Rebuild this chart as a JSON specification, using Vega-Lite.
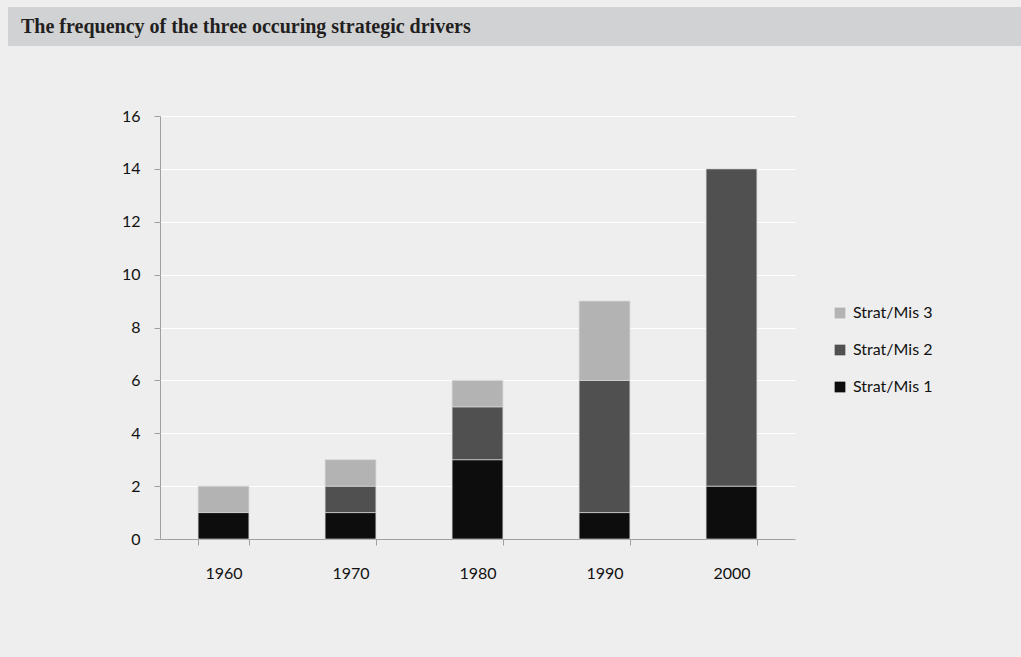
{
  "$schema": "https://vega.github.io/schema/vega-lite/v6.json",
  "background": "#eeeeee",
  "padding": {"left": 8, "top": 7, "right": 0, "bottom": 82},
  "spacing": 62,
  "config": {
    "view": {"stroke": null},
    "font": "Lato"
  },
  "vconcat": [
    {
      "width": 861,
      "height": 39,
      "data": {"values": [{"heading": "The frequency of the three occuring strategic drivers"}]},
      "mark": {"type": "rect", "color": "#d1d2d4"},
      "encoding": {
        "x": {
          "datum": 0,
          "type": "quantitative",
          "scale": {"domain": [0, 1], "range": [-152, 861]},
          "axis": null
        },
        "x2": {"datum": 1}
      },
      "title": {
        "text": "The frequency of the three occuring strategic drivers",
        "orient": "top",
        "anchor": "start",
        "frame": "group",
        "offset": -46,
        "dx": -139,
        "baseline": "alphabetic",
        "font": "Liberation Serif",
        "fontSize": 20,
        "fontWeight": "bold",
        "color": "#231f20"
      }
    },
    {
      "width": 635,
      "height": 423,
      "data": {
        "values": [
          {"decade": "1960", "series": "Strat/Mis 1", "count": 1},
          {"decade": "1960", "series": "Strat/Mis 3", "count": 1},
          {"decade": "1970", "series": "Strat/Mis 1", "count": 1},
          {"decade": "1970", "series": "Strat/Mis 2", "count": 1},
          {"decade": "1970", "series": "Strat/Mis 3", "count": 1},
          {"decade": "1980", "series": "Strat/Mis 1", "count": 3},
          {"decade": "1980", "series": "Strat/Mis 2", "count": 2},
          {"decade": "1980", "series": "Strat/Mis 3", "count": 1},
          {"decade": "1990", "series": "Strat/Mis 1", "count": 1},
          {"decade": "1990", "series": "Strat/Mis 2", "count": 5},
          {"decade": "1990", "series": "Strat/Mis 3", "count": 3},
          {"decade": "2000", "series": "Strat/Mis 1", "count": 2},
          {"decade": "2000", "series": "Strat/Mis 2", "count": 12}
        ]
      },
      "mark": {"type": "bar", "stroke": "#d6d6d6", "strokeWidth": 0.7},
      "encoding": {
        "x": {
          "field": "decade",
          "type": "ordinal",
          "scale": {"paddingInner": 0.6, "paddingOuter": 0.3},
          "axis": {
            "title": null,
            "labelAngle": 0,
            "labelFont": "Lato",
            "labelFontSize": 16,
            "labelColor": "#111111",
            "labelPadding": 20,
            "tickBand": "extent",
            "tickSize": 6,
            "tickColor": "#a0a0a0",
            "domainColor": "#a0a0a0",
            "grid": false
          }
        },
        "y": {
          "field": "count",
          "type": "quantitative",
          "stack": "zero",
          "scale": {"domain": [0, 16], "nice": false},
          "axis": {
            "title": null,
            "values": [0, 2, 4, 6, 8, 10, 12, 14, 16],
            "labelFont": "Lato",
            "labelFontSize": 16,
            "labelColor": "#111111",
            "labelPadding": 14,
            "tickSize": 6,
            "tickColor": "#a0a0a0",
            "domainColor": "#a0a0a0",
            "grid": true,
            "gridColor": "#ffffff",
            "gridWidth": 1.2,
            "minExtent": 152,
            "maxExtent": 152
          }
        },
        "color": {
          "field": "series",
          "type": "nominal",
          "sort": "descending",
          "scale": {
            "domain": ["Strat/Mis 3", "Strat/Mis 2", "Strat/Mis 1"],
            "range": ["#b3b3b3", "#505050", "#0d0d0d"]
          },
          "legend": {
            "title": null,
            "orient": "none",
            "legendX": 672,
            "legendY": 298,
            "symbolType": "square",
            "symbolSize": 115,
            "symbolStrokeWidth": 0,
            "labelFont": "Lato",
            "labelFontSize": 16,
            "labelColor": "#111111",
            "labelOffset": 5,
            "rowPadding": 21
          }
        },
        "order": {"field": "series", "sort": "ascending"}
      }
    }
  ]
}
